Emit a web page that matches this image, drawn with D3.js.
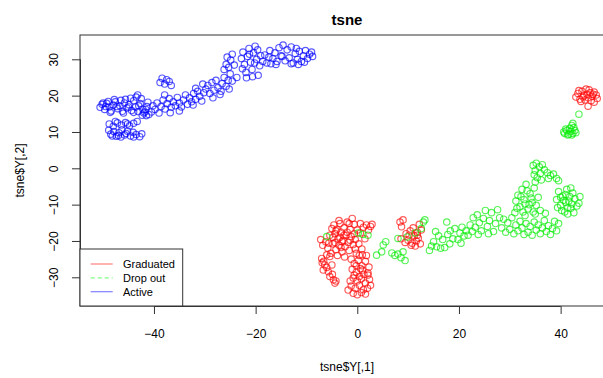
<!DOCTYPE html>
<html><head><meta charset="utf-8">
<script src="https://cdn.jsdelivr.net/npm/d3@7"></script>
<style>body{margin:0;background:#fff}svg{display:block}text{font-family:"Liberation Sans",Arial,Helvetica,sans-serif}</style>
</head><body>
<svg id="c" width="603" height="378"></svg>
<script>
const title = "tsne";
const xLabel = "tsne$Y[,1]";
const yLabel = "tsne$Y[,2]";
const xTicks = [-40, -20, 0, 20, 40];
const yTicks = [-30, -20, -10, 0, 10, 20, 30];
const legendLabels = ["Graduated", "Drop out", "Active"];

const active = [
[-50.6,16.8],[-50.2,17.6],[-49.7,16.2],[-49.3,17.9],[-48.8,16.9],[-48.4,15.8],[-48.0,17.4],[-47.6,18.3],[-47.1,16.4],[-46.7,17.2],[-46.2,15.7],[-45.8,18.0],[-45.3,16.6],[-44.9,17.5],[-44.4,15.9],[-44.0,18.6],[-43.6,16.9],[-43.1,15.6],[-42.7,17.8],[-42.2,16.3],[-41.8,15.5],[-41.4,17.0],[-41.2,18.2],[-42.5,19.2],[-43.5,19.6],[-44.6,19.3],[-45.6,19.0],[-46.5,18.7],[-47.8,18.9],[-49.0,18.4],[-50.0,18.0],[-48.6,15.4],[-46.0,15.2],[-44.0,15.4],[-42.0,15.2],[-45.0,16.9],[-47.3,17.0],[-49.5,17.0],[-43.0,17.2],[-41.6,16.2],[-43.2,20.2],[-41.0,14.8],[-41.5,14.5],[-42.3,14.6],
[-48.8,12.2],[-48.0,11.6],[-47.2,12.5],[-46.4,11.9],[-45.6,12.6],[-44.8,11.7],[-44.0,12.4],[-43.3,12.9],[-47.6,12.9],[-45.2,12.2],
[-48.9,10.5],[-48.5,9.4],[-47.9,10.1],[-47.4,8.8],[-46.9,9.8],[-46.3,10.6],[-45.8,9.2],[-45.2,10.2],[-44.6,8.9],[-44.1,9.9],[-43.5,9.3],[-42.8,8.7],[-42.4,9.5],[-47.0,9.0],[-45.5,9.6],[-48.2,8.9],[-44.0,8.6],[-46.5,8.6],
[-40.5,15.5],[-40.2,17.2],[-39.8,16.2],[-39.4,18.0],[-39.0,15.2],[-38.6,17.0],[-38.2,18.8],[-37.8,16.3],[-37.4,17.8],[-37.0,19.2],[-36.6,16.8],[-36.2,18.3],[-35.8,17.2],[-35.4,19.5],[-35.0,18.0],[-34.6,16.9],[-34.2,18.8],[-33.8,20.2],[-33.4,17.6],[-33.0,19.4],[-32.6,18.3],[-32.2,20.6],[-31.8,19.0],[-31.4,21.2],[-31.0,19.8],[-30.6,18.5],[-30.2,20.8],[-29.8,21.8],[-36.8,15.3],[-37.9,20.2],[-35.0,15.8],[-32.3,17.4],
[-38.8,23.6],[-38.4,24.8],[-37.9,23.2],[-37.5,24.4],[-37.0,23.9],[-36.6,22.8],
[-29.4,22.8],[-29.0,20.6],[-28.6,23.6],[-28.2,21.5],[-27.8,24.2],[-27.4,22.2],[-27.0,20.3],[-26.6,23.3],[-26.2,25.0],[-25.8,22.6],[-25.4,24.2],[-25.0,26.0],[-24.6,24.0],[-28.4,19.4],[-30.4,23.2],[-31.8,22.0],[-26.8,21.2],[-25.2,21.8],
[-26.2,27.2],[-25.8,28.6],[-25.3,27.8],[-24.9,29.8],[-25.6,30.6],[-24.6,31.4],[-24.2,28.4],[-23.7,25.0],
[-22.8,30.2],[-22.5,32.0],[-22.2,28.6],[-21.9,26.4],[-21.6,30.8],[-21.3,33.0],[-21.0,29.2],[-20.7,27.2],[-20.4,31.8],[-20.1,33.6],[-19.8,30.0],[-19.5,25.6],[-19.2,28.2],[-21.8,24.9],[-20.6,25.2],[-22.6,27.4],[-19.6,32.6],[-21.2,31.4],[-20.2,29.0],[-19.0,31.0],
[-18.6,29.4],[-18.2,31.2],[-17.8,29.0],[-17.4,30.6],[-17.0,28.8],[-16.6,30.2],[-16.2,31.8],[-15.8,29.4],[-15.4,33.2],[-15.0,31.0],[-14.6,33.9],[-14.2,29.6],[-13.8,32.6],[-13.4,30.4],[-13.0,33.4],[-12.6,29.0],[-12.2,31.6],[-11.8,30.0],[-11.4,32.2],[-11.0,29.4],[-10.6,31.0],[-10.2,32.4],[-9.8,30.2],[-9.4,31.4],[-9.0,32.0],[-8.8,30.8],[-16.0,28.6],[-13.0,28.8],[-11.6,28.6],[-14.8,30.8],[-10.4,29.2],[-17.2,32.4],[-12.0,33.0]
];

const graduated = [
[-7.0,-24.8],[-6.6,-25.6],[-5.4,-24.3],[-6.4,-26.6],[-5.0,-26.6],[-6.7,-28.0],[-5.7,-28.5],[-6.0,-27.3],[-5.4,-29.8],[-4.9,-29.2],[-4.7,-30.7],[-4.4,-31.6],[-4.2,-31.0],[-6.9,-26.0],
[-7.2,-19.6],[-6.8,-21.2],[-6.2,-20.2],[-5.8,-22.0],[-5.4,-18.4],[-5.0,-16.6],[-4.8,-20.8],[-4.6,-15.6],[-4.4,-18.0],[-4.2,-22.4],[-4.0,-16.8],[-3.8,-19.4],[-3.6,-21.2],[-3.4,-15.2],[-3.2,-17.6],[-3.0,-23.0],[-2.8,-19.8],[-2.6,-16.4],[-2.4,-21.6],[-2.2,-18.4],[-2.0,-14.8],[-1.8,-20.4],[-1.6,-22.6],[-1.4,-16.8],[-1.2,-18.8],[-1.0,-13.8],[-0.8,-21.0],[-0.6,-15.4],[-0.4,-19.6],[-0.2,-23.4],[0.0,-17.0],[0.3,-20.8],[0.6,-15.2],[0.9,-22.2],[1.2,-16.2],[1.5,-19.4],[1.8,-15.6],[2.2,-17.0],[2.6,-16.0],[2.9,-15.4],[-3.9,-24.0],[-2.5,-24.4],[-5.2,-23.4],[-6.0,-23.8],[-3.0,-20.2],[-4.2,-17.2],[-2.0,-17.6],[-3.6,-14.4],[-1.6,-15.2],[0.4,-24.0],[1.0,-23.8],
[-3.4,-19.0],[-2.6,-18.4],[-4.4,-20.4],[-3.2,-21.8],[-1.4,-19.8],[-0.6,-18.0],[0.6,-17.8],[-0.4,-22.2],[-5.6,-20.6],[-4.8,-19.0],
[-1.2,-25.0],[-0.6,-26.2],[0.2,-25.4],[0.9,-26.8],[1.6,-25.6],[2.3,-27.2],[-1.0,-27.8],[-0.2,-28.6],[0.6,-27.6],[1.3,-29.2],[2.1,-28.8],[-0.8,-30.2],[0.0,-31.0],[0.8,-30.4],[1.6,-31.6],[2.4,-30.6],[-1.2,-32.4],[-0.4,-33.0],[0.4,-32.2],[1.2,-33.4],[2.0,-33.0],[-0.8,-34.4],[0.0,-34.8],[0.8,-34.2],[1.6,-34.6],[-0.6,-29.4],[0.4,-29.8],[1.0,-28.0],[-1.4,-31.0],[2.6,-32.2],[-0.2,-26.8],[1.8,-24.0],[-1.8,-33.5],[2.1,-29.4],
[8.4,-14.8],[9.0,-14.2],[8.6,-19.4],[9.6,-18.0],[10.0,-19.8],[10.4,-17.2],[10.8,-20.6],[11.2,-18.6],[11.6,-20.0],[12.0,-19.2],[12.4,-20.8],[11.0,-16.4],[11.8,-17.6],[12.6,-17.0],[12.2,-15.4],[10.6,-21.2],[11.4,-21.4],[9.4,-20.4],[11.8,-18.4],[10.2,-18.4],[8.7,-16.1],
[43.0,19.6],[43.4,20.6],[43.8,19.0],[44.2,21.2],[44.6,20.0],[45.0,21.8],[45.4,19.4],[45.8,20.8],[46.2,19.8],[46.6,21.0],[47.0,20.2],[47.2,19.2],[44.0,18.4],[44.8,18.8],[46.0,18.6],[45.2,20.4],[44.4,19.6],[46.4,20.4],[43.6,21.4],[45.6,21.6],[45.4,17.1],[46.6,18.2]
];

const dropout = [
[-6.0,-18.8],[0.2,-17.8],[1.1,-18.2],[2.1,-18.4],[3.8,-23.9],[4.8,-23.0],[5.1,-21.1],[5.6,-20.2],[6.8,-23.3],[7.4,-24.0],[8.0,-23.6],[8.6,-24.6],[9.4,-25.4],[9.0,-23.0],[8.0,-19.3],[9.8,-18.9],[11.4,-17.8],[12.6,-16.6],[13.0,-14.8],[13.3,-14.2],
[14.2,-22.6],[14.6,-21.4],[15.0,-20.2],[15.6,-21.6],[16.0,-18.6],[16.4,-22.0],[16.8,-19.6],[17.2,-21.8],[17.6,-14.8],[17.8,-18.2],[18.3,-17.2],[18.8,-19.4],[19.2,-16.6],[19.8,-19.6],[20.2,-17.8],[20.6,-16.2],[21.0,-18.6],[21.4,-17.2],[21.8,-18.4],[22.2,-15.6],[22.6,-17.4],[22.8,-13.6],[23.2,-16.2],[23.6,-12.8],[24.0,-15.0],[24.4,-17.2],[24.8,-13.8],[25.2,-11.6],[25.6,-16.0],[26.0,-14.4],[26.4,-12.2],[26.8,-17.4],[27.2,-15.2],[27.6,-11.4],[28.0,-13.6],[20.4,-20.6],[18.2,-20.8],[15.4,-17.4],[23.8,-18.2],[25.8,-18.0],
[28.4,-16.4],[28.8,-14.0],[29.2,-17.6],[29.6,-15.0],[30.0,-16.8],[30.4,-13.6],[30.8,-18.0],[31.2,-15.6],[31.6,-17.2],[32.0,-14.6],[32.4,-16.4],[32.8,-18.2],[33.2,-15.2],[33.6,-17.6],[34.0,-16.0],[34.4,-18.4],[34.8,-14.8],[35.2,-17.0],[35.6,-15.6],[36.0,-18.0],[36.4,-16.4],[36.8,-14.4],[37.2,-17.4],[37.6,-15.8],[38.0,-18.2],[38.4,-16.6],[38.8,-14.6],[39.2,-17.2],[39.6,-15.2],[31.0,-12.2],[33.0,-13.0],[35.0,-12.6],[37.0,-12.4],
[31.2,-9.0],[31.6,-7.4],[32.0,-10.6],[32.4,-5.8],[32.8,-8.6],[33.2,-4.4],[33.6,-11.2],[34.0,-7.0],[34.4,-9.4],[34.8,-5.4],[35.2,-10.2],[35.6,-8.0],[36.0,-11.6],[32.6,-12.0],[31.4,-11.0],[33.4,-6.2],[34.6,-12.0],[35.0,-3.8],[33.0,-9.8],[34.2,-8.2],[32.2,-7.8],[33.8,-10.0],
[34.6,0.8],[35.2,1.4],[35.8,0.4],[36.4,1.0],[35.0,-0.6],[36.0,-1.4],[36.8,-0.4],[37.4,-1.2],[38.0,-2.0],[38.6,-1.6],[39.2,-2.8],[39.6,-3.4],[35.4,-2.6],[36.2,-3.2],[37.6,-2.8],[34.8,-1.8],
[39.2,-8.6],[39.6,-6.4],[40.0,-10.2],[40.4,-7.6],[40.8,-12.0],[41.2,-5.8],[41.6,-9.0],[42.0,-11.0],[42.4,-6.8],[42.8,-8.4],[43.2,-10.4],[43.6,-9.6],[40.2,-11.6],[41.4,-12.6],[42.6,-12.2],[39.4,-10.8],[41.0,-7.2],[42.0,-5.4],[43.8,-7.8],[41.0,-9.4],[41.8,-7.8],[40.6,-8.8],[42.2,-9.8],[41.4,-10.8],[40.0,-8.0],
[43.6,14.9],[42.4,12.4],[42.2,11.8],[41.8,11.0],[42.6,11.2],[41.2,10.4],[42.0,10.2],[42.8,10.4],[40.8,9.6],[41.6,9.4],[42.4,9.6],[43.0,9.8],[41.0,10.8],[41.4,9.2],[42.2,9.2],[40.6,10.0]
];

const series = [
  {name: legendLabels[0], data: graduated, color: "rgba(255,0,0,0.65)", legend: "rgba(255,0,0,0.5)", dash: null},
  {name: legendLabels[1], data: dropout, color: "rgba(0,235,0,0.65)", legend: "rgba(0,255,0,0.5)", dash: "4,3"},
  {name: legendLabels[2], data: active, color: "rgba(0,0,255,0.65)", legend: "rgba(0,0,255,0.5)", dash: null}
];

const svg = d3.select("#c");
const L = 80, R = 614, T = 35, B = 306;
const x = d3.scaleLinear().domain([-54.55, 50.5]).range([L, R]);
const y = d3.scaleLinear().domain([-37.9, 36.69]).range([B, T]);

series.forEach(s => {
  svg.append("g").selectAll("circle").data(s.data).join("circle")
    .attr("cx", d => x(d[0])).attr("cy", d => y(d[1])).attr("r", 3.2)
    .attr("fill", "none").attr("stroke", s.color).attr("stroke-width", 1.15);
});

svg.append("rect").attr("x", L).attr("y", T).attr("width", R - L).attr("height", B - T)
  .attr("fill", "none").attr("stroke", "#333").attr("stroke-width", 1);

const xa = svg.append("g").attr("transform", `translate(0,${B})`)
  .call(d3.axisBottom(x).tickValues(xTicks).tickSize(8).tickPadding(15).tickFormat(d3.format("d")));
xa.select(".domain").attr("d", `M${x(xTicks[0])},0.5H${x(xTicks[xTicks.length-1])}`).attr("stroke", "#333");
xa.selectAll("line").attr("stroke", "#333");
xa.selectAll("text").attr("font-size", 12).attr("fill", "#000").attr("font-family", '"Liberation Sans",Arial,sans-serif');

const ya = svg.append("g").attr("transform", `translate(${L},0)`)
  .call(d3.axisLeft(y).tickValues(yTicks).tickSize(8).tickFormat(d3.format("d")));
ya.select(".domain").attr("d", `M0.5,${y(yTicks[0])}V${y(yTicks[yTicks.length-1])}`).attr("stroke", "#333");
ya.selectAll("line").attr("stroke", "#333");
ya.selectAll(".tick text")
  .attr("x", null).attr("dy", null)
  .attr("transform", "translate(-22,0) rotate(-90)")
  .attr("text-anchor", "middle").attr("font-size", 12).attr("fill", "#000")
  .attr("font-family", '"Liberation Sans",Arial,sans-serif');

svg.append("text").attr("x", (L + R) / 2).attr("y", 25).attr("text-anchor", "middle")
  .attr("font-weight", "bold").attr("font-size", 15).text(title);
svg.append("text").attr("x", (L + R) / 2).attr("y", 371).attr("text-anchor", "middle")
  .attr("font-size", 12).text(xLabel);
svg.append("text").attr("transform", `translate(24,${(T + B) / 2}) rotate(-90)`).attr("text-anchor", "middle")
  .attr("font-size", 12).text(yLabel);

const lg = svg.append("g");
lg.append("rect").attr("x", L).attr("y", 249).attr("width", 102.7).attr("height", B - 249)
  .attr("fill", "#fff").attr("stroke", "#333").attr("stroke-width", 1);
const rowY = d3.scalePoint().domain(legendLabels).range([264, 291.7]);
series.forEach(s => {
  lg.append("line").attr("x1", 90.7).attr("x2", 112.7).attr("y1", rowY(s.name)).attr("y2", rowY(s.name))
    .attr("stroke", s.legend).attr("stroke-width", 1.2).attr("stroke-dasharray", s.dash);
  lg.append("text").attr("x", 123).attr("y", rowY(s.name) + 4).attr("font-size", 11).text(s.name);
});
</script>
</body></html>
